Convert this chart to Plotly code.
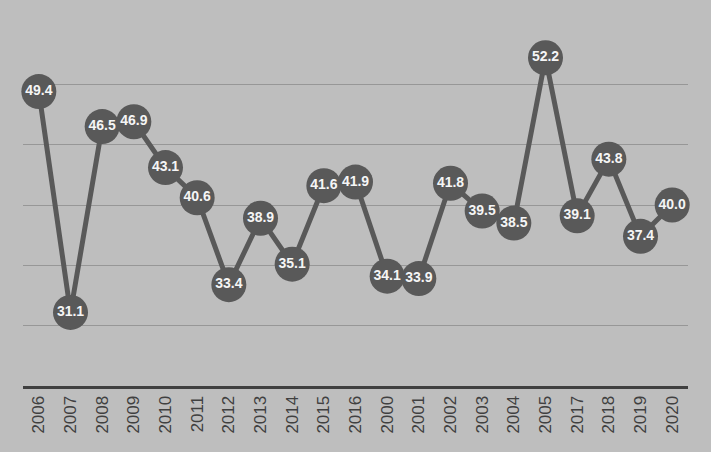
import plotly.graph_objects as go

# Data
years = ['2006', '2007', '2008', '2009', '2010', '2011', '2012', '2013', '2014', '2015', '2016',
         '2000', '2001', '2002', '2003', '2004', '2005', '2017', '2018', '2019', '2020']
values = [49.4, 31.1, 46.5, 46.9, 43.1, 40.6, 33.4, 38.9, 35.1, 41.6, 41.9,
          34.1, 33.9, 41.8, 39.5, 38.5, 52.2, 39.1, 43.8, 37.4, 40.0]
grid_vals = [30, 35, 40, 45, 50]

fig = go.Figure()
fig.add_trace(go.Scatter(
    x=years,
    y=values,
    mode='lines+markers+text',
    line=dict(color='#595959', width=5),
    marker=dict(size=35, color='#595959', line=dict(width=0)),
    text=[f'{v:.1f}' for v in values],
    textposition='middle center',
    textfont=dict(family='Liberation Sans', size=14, color='#f5f5f5', weight='bold'),
    cliponaxis=False,
    hoverinfo='skip',
))

fig.update_layout(
    width=711,
    height=452,
    margin=dict(l=23, r=23, t=24, b=66),
    paper_bgcolor='#bebebe',
    plot_bgcolor='#bebebe',
    showlegend=False,
)
fig.update_xaxes(
    type='category',
    range=[-0.5, len(years) - 0.5],
    tickangle=-90,
    tickfont=dict(family='Liberation Sans', size=17, color='#404040'),
    showgrid=False,
    showline=True,
    linecolor='#404040',
    linewidth=3,
    ticks='',
)
fig.update_yaxes(
    range=[25, 55],
    tickvals=grid_vals,
    showticklabels=False,
    showgrid=True,
    gridcolor='#979797',
    gridwidth=1.2,
    zeroline=False,
    showline=False,
)

# drop the page margin so the figure fills the window
fig.write_html("out.html", config={'displayModeBar': False},
               post_script="document.body.style.margin='0';")
